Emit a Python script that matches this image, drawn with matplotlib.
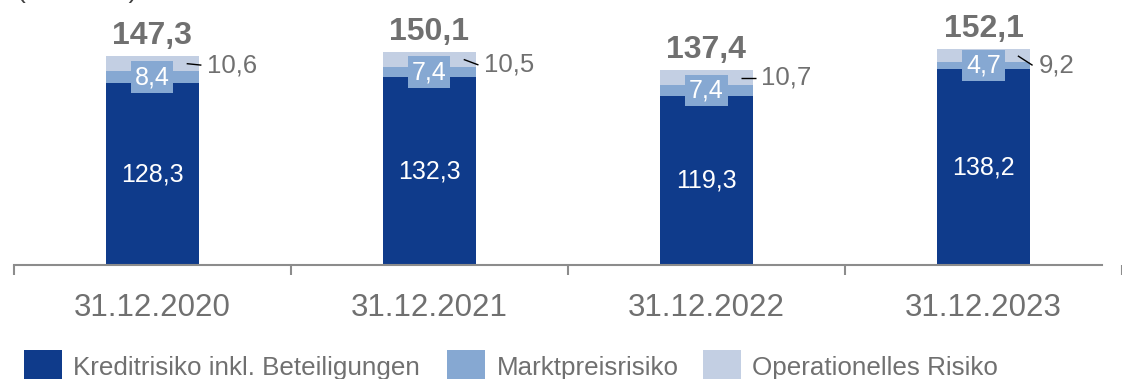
import matplotlib
matplotlib.use("Agg")
import matplotlib.pyplot as plt
from matplotlib.patches import Rectangle
from matplotlib import transforms

plt.rcParams['font.family'] = ['Liberation Sans', 'DejaVu Sans']

# Data (in Mrd. €)
dates = ["31.12.2020", "31.12.2021", "31.12.2022", "31.12.2023"]
kredit = [128.3, 132.3, 119.3, 138.2]
markt = [8.4, 7.4, 7.4, 4.7]
oprisk = [10.6, 10.5, 10.7, 9.2]
totals = [147.3, 150.1, 137.4, 152.1]
series_names = ["Kreditrisiko inkl. Beteiligungen", "Marktpreisrisiko", "Operationelles Risiko"]

C_KREDIT = "#0f3b8b"
C_MARKT = "#86a8d2"
C_OP = "#c3cfe3"
C_TEXT = "#707070"

W, H, DPI = 1122, 379, 100
fig = plt.figure(figsize=(W / DPI, H / DPI), dpi=DPI)

# axes spans full width; baseline sits 114 px above the bottom edge
ax = fig.add_axes([0, 114 / H, 1, (H - 114) / H])
px_per_cat = 282.0
x0 = -155.0 / px_per_cat
ax.set_xlim(x0, x0 + W / px_per_cat)
px_per_unit = 1.418
ax.set_ylim(0, (H - 114) / px_per_unit)

bar_w = 95.0 / px_per_cat
xs = list(range(len(dates)))
bottom2 = [a + b for a, b in zip(kredit, markt)]
ax.bar(xs, kredit, width=bar_w, color=C_KREDIT, zorder=2)
ax.bar(xs, markt, width=bar_w, bottom=kredit, color=C_MARKT, zorder=2)
ax.bar(xs, oprisk, width=bar_w, bottom=bottom2, color=C_OP, zorder=2)

def fmt(v):
    return f"{v:.1f}".replace(".", ",")

# vertical offset (px) of the operational-risk callouts below their segment centre
op_drop_px = [1.5, 5.5, 0.0, 9.5]

for i in xs:
    # credit risk value, centred in segment
    ax.text(i, kredit[i] / 2, fmt(kredit[i]), ha="center", va="center",
            color="white", fontsize=18, zorder=4)
    # market risk value on a tinted box
    ax.text(i, kredit[i] + markt[i] / 2, fmt(markt[i]), ha="center", va="center",
            color="white", fontsize=18, zorder=4,
            bbox=dict(boxstyle="square,pad=0.15", fc=C_MARKT, ec="none"))
    # operational risk callout with leader line
    yc = bottom2[i] + oprisk[i] / 2
    right = i + bar_w / 2
    dx0 = -12.5 / px_per_cat
    dx1 = 2.5 / px_per_cat
    yend = yc - op_drop_px[i] / px_per_unit
    ax.plot([right + dx0, right + dx1], [yc, yend], color="black", lw=1.0,
            zorder=5, solid_capstyle="butt")
    ax.text(right + 8.5 / px_per_cat, yend, fmt(oprisk[i]), ha="left",
            va="center", color=C_TEXT, fontsize=18.5, zorder=4)
    # total above the bar
    ax.annotate(fmt(totals[i]), (i, totals[i]), xytext=(0, 8.6),
                textcoords="offset points", ha="center", va="baseline",
                color=C_TEXT, fontsize=23, fontweight="bold")

# axis styling: only the bottom line with separator ticks
for s in ["top", "right", "left"]:
    ax.spines[s].set_visible(False)
ax.spines["bottom"].set_color("#8c8c8c")
ax.spines["bottom"].set_linewidth(1.5)
ax.spines["bottom"].set_bounds(-0.5, x0 + W / px_per_cat)
ax.set_yticks([])
ax.set_xticks([-0.5 + k for k in range(len(dates) + 1)])
ax.set_xticklabels([])
ax.tick_params(axis="x", length=7.5, width=1.5, color="#8c8c8c", direction="out")

# category labels
trans = transforms.blended_transform_factory(ax.transData, fig.transFigure)
for i, d in enumerate(dates):
    ax.text(i, (H - 316) / H, d, transform=trans, ha="center", va="baseline",
            color=C_TEXT, fontsize=22.5, clip_on=False)

# unit label at the very top (mostly outside the canvas)
fig.text(17 / W, 1 + 1.5 / H, "(in Mrd. €)", ha="left", va="baseline",
         color="#404040", fontsize=19)

# legend drawn in figure pixels
sq_x = [24, 447, 703]
tx_x = [73, 497, 752]
colors = [C_KREDIT, C_MARKT, C_OP]
for sx, tx, c, name in zip(sq_x, tx_x, colors, series_names):
    fig.add_artist(Rectangle((sx / W, (H - 388) / H), 38 / W, 38 / H,
                             transform=fig.transFigure, fc=c, ec="none"))
    fig.text(tx / W, 4 / H, name, ha="left", va="baseline", color=C_TEXT,
             fontsize=18.7)

fig.savefig("out.png", dpi=DPI)
